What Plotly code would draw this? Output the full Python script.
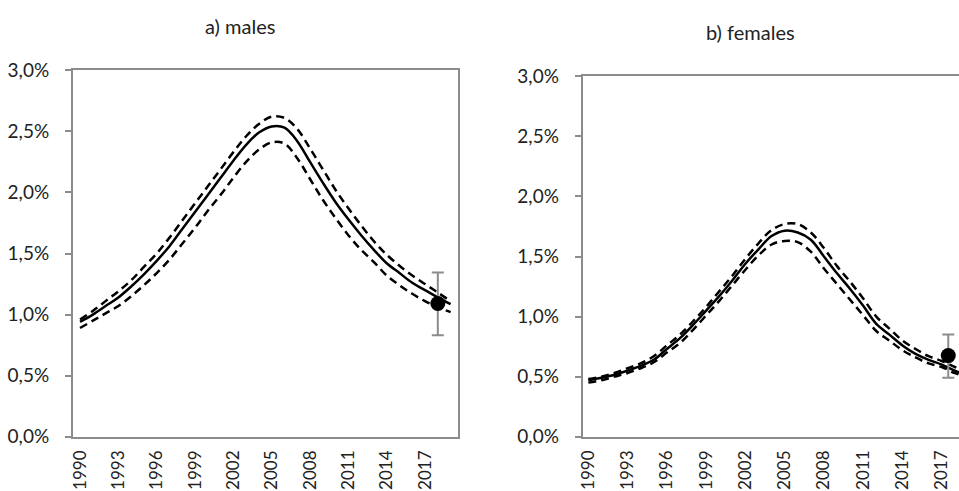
import plotly.graph_objects as go

years = list(range(1990, 2020))
tick_years = list(range(1990, 2018, 3))
tick_text = [str(y) for y in tick_years]

male_mid = [0.94, 1.00, 1.07, 1.14, 1.23, 1.33, 1.44, 1.56, 1.70, 1.84,
            1.98, 2.12, 2.26, 2.39, 2.49, 2.54, 2.53, 2.42, 2.25, 2.08,
            1.92, 1.78, 1.65, 1.53, 1.42, 1.34, 1.26, 1.20, 1.14, 1.085]
male_hi = [0.96, 1.03, 1.11, 1.19, 1.28, 1.39, 1.50, 1.63, 1.77, 1.91,
           2.05, 2.19, 2.33, 2.46, 2.56, 2.62, 2.61, 2.52, 2.36, 2.19,
           2.02, 1.87, 1.73, 1.60, 1.49, 1.40, 1.32, 1.25, 1.18, 1.11]
male_lo = [0.89, 0.95, 1.01, 1.07, 1.15, 1.24, 1.34, 1.45, 1.58, 1.71,
           1.85, 1.98, 2.12, 2.25, 2.35, 2.41, 2.40, 2.28, 2.11, 1.94,
           1.79, 1.65, 1.53, 1.43, 1.32, 1.24, 1.17, 1.11, 1.06, 1.02]

fem_mid = [0.47, 0.49, 0.515, 0.55, 0.59, 0.64, 0.73, 0.82, 0.93, 1.05,
           1.17, 1.30, 1.44, 1.56, 1.67, 1.715, 1.70, 1.64, 1.50, 1.36,
           1.23, 1.09, 0.94, 0.85, 0.76, 0.69, 0.64, 0.60, 0.55, 0.51]
fem_hi = [0.48, 0.50, 0.53, 0.57, 0.61, 0.67, 0.76, 0.85, 0.96, 1.08,
          1.21, 1.34, 1.48, 1.61, 1.72, 1.77, 1.77, 1.70, 1.57, 1.42,
          1.29, 1.15, 1.00, 0.90, 0.80, 0.73, 0.67, 0.63, 0.58, 0.54]
fem_lo = [0.45, 0.47, 0.50, 0.53, 0.57, 0.62, 0.70, 0.78, 0.89, 1.01,
          1.13, 1.26, 1.39, 1.51, 1.60, 1.63, 1.62, 1.54, 1.40, 1.27,
          1.14, 1.01, 0.88, 0.80, 0.72, 0.66, 0.61, 0.58, 0.53, 0.50]

male_obs_year = [2018]
male_obs = [1.09]
male_obs_hi = [1.345]
male_obs_lo = [0.83]

fem_obs_year = [2017.5]
fem_obs = [0.675]
fem_obs_hi = [0.85]
fem_obs_lo = [0.49]

pct = lambda arr: [v / 100 for v in arr]

FONT = "Lato"
GRAY = "#8c8c8c"
W, H = 959, 491

fig = go.Figure()

def add_panel(xa, ya, mid, hi, lo, oy, ov, ohi, olo):
    for series, dash in ((hi, "8px,5px"), (lo, "8px,5px"), (mid, None)):
        fig.add_trace(go.Scatter(
            x=years, y=pct(series), mode="lines", xaxis=xa, yaxis=ya,
            line=dict(color="black", width=2.5, shape="spline", smoothing=1.0,
                      dash=dash if dash else "solid"),
            showlegend=False, hoverinfo="skip"))
    fig.add_trace(go.Scatter(
        x=oy, y=pct(ov), mode="markers", xaxis=xa, yaxis=ya,
        marker=dict(color="black", size=15),
        error_y=dict(type="data", symmetric=False,
                     array=[(h - v) / 100 for h, v in zip(ohi, ov)],
                     arrayminus=[(v - l) / 100 for l, v in zip(olo, ov)],
                     color=GRAY, thickness=2, width=6),
        showlegend=False, hoverinfo="skip"))

add_panel("x", "y", male_mid, male_hi, male_lo,
          male_obs_year, male_obs, male_obs_hi, male_obs_lo)
add_panel("x2", "y2", fem_mid, fem_hi, fem_lo,
          fem_obs_year, fem_obs, fem_obs_hi, fem_obs_lo)

yax = dict(range=[0, 0.03], tickvals=[0, 0.005, 0.01, 0.015, 0.02, 0.025, 0.03],
           tickformat=".1%", showgrid=False, zeroline=False, showline=True,
           linecolor=GRAY, linewidth=2, ticks="outside", ticklen=6,
           tickcolor=GRAY, tickwidth=2, ticklabelstandoff=12, automargin=False,
           tickfont=dict(family=FONT, size=19, color="#222"))
xax = dict(tickvals=tick_years, ticktext=tick_text, tickangle=-90,
           showgrid=False, zeroline=False, showline=True, linecolor=GRAY,
           linewidth=2, ticks="", ticklabelstandoff=5, automargin=False,
           tickfont=dict(family=FONT, size=17, color="#222"))

fig.update_layout(
    width=W, height=H, margin=dict(l=0, r=0, t=0, b=0),
    paper_bgcolor="white", plot_bgcolor="white", separators=",.",
    xaxis=dict(xax, domain=[73 / W, 458 / W], range=[1989.45, 2019.58],
               anchor="y", mirror=True),
    yaxis=dict(yax, domain=[1 - 436.7 / H, 1 - 70.3 / H], anchor="x",
               mirror=True),
    xaxis2=dict(xax, domain=[582.7 / W, 1.0], range=[1989.57, 2018.32],
                anchor="y2", mirror=True),
    yaxis2=dict(yax, domain=[1 - 436.7 / H, 1 - 76.3 / H], anchor="x2",
                mirror=False),
    annotations=[
        dict(text="a) males", x=240 / W, y=1 - 26 / H, xref="paper", yref="paper",
             showarrow=False, xanchor="center", yanchor="middle",
             font=dict(family=FONT, size=20, color="#222")),
        dict(text="b) females", x=750 / W, y=1 - 32 / H, xref="paper", yref="paper",
             showarrow=False, xanchor="center", yanchor="middle",
             font=dict(family=FONT, size=20, color="#222")),
    ],
)

fig.write_html("out.html")
